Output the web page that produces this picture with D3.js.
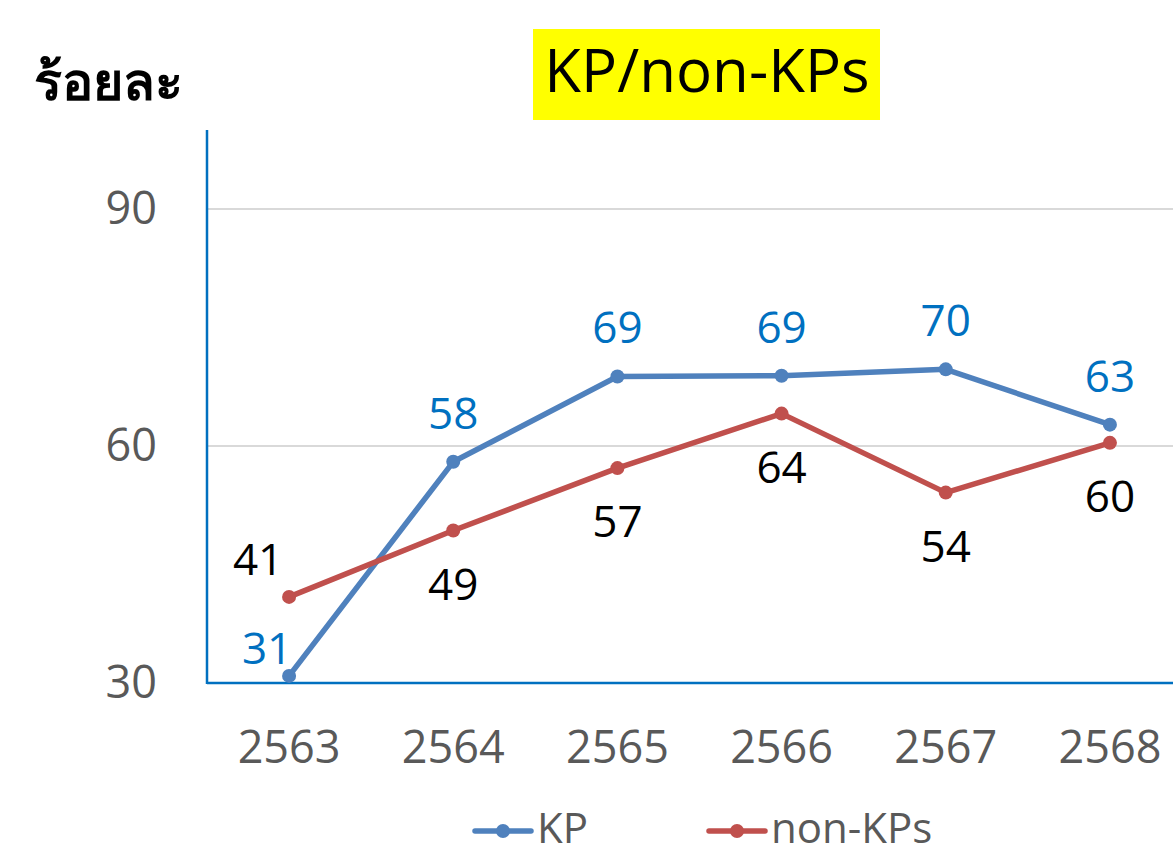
<!DOCTYPE html>
<html>
<head>
<meta charset="utf-8">
<script src="https://cdn.jsdelivr.net/npm/d3@7"></script>
<style>
  body { margin: 0; background: #fff; }
  svg { display: block; font-family: "Open Sans", sans-serif; }
</style>
</head>
<body>
<div id="chart"></div>
<script>
// data
const years = ['2563', '2564', '2565', '2566', '2567', '2568'];
const kp = [30.9, 58.0, 68.8, 68.9, 69.7, 62.7];
const nonKp = [40.9, 49.3, 57.2, 64.1, 54.1, 60.4];
const kpLabels = ['31', '58', '69', '69', '70', '63'];
const nonKpLabels = ['41', '49', '57', '64', '54', '60'];
const yTicks = [30, 60, 90];
const seriesNames = ['KP', 'non-KPs'];

const width = 1173;
const height = 855;
const plot = { left: 207, right: 1173, top: 130, bottom: 683 };

const svg = d3.select('#chart').append('svg')
  .attr('width', width)
  .attr('height', height);

const x = d3.scaleBand().domain(years).range([plot.left, 1192]);
const cx = (d) => x(d) + x.bandwidth() / 2;
const y = d3.scaleLinear().domain([30, 100]).range([plot.bottom, plot.top]);

// gridlines
svg.append('g')
  .attr('class', 'grid')
  .selectAll('line')
  .data(yTicks.filter((d) => d > 30))
  .join('line')
  .attr('x1', plot.left)
  .attr('x2', plot.right)
  .attr('y1', (d) => y(d))
  .attr('y2', (d) => y(d))
  .attr('stroke', '#d9d9d9')
  .attr('stroke-width', 2);

// y tick labels
const yAxis = svg.append('g')
  .attr('transform', `translate(${plot.left},0)`)
  .call(d3.axisLeft(y).tickValues(yTicks).tickSize(0).tickPadding(50));
yAxis.select('.domain').remove();
yAxis.selectAll('text')
  .attr('font-family', '"Open Sans", sans-serif')
  .attr('font-size', 45)
  .attr('fill', '#595959');

// x tick labels
const xAxis = svg.append('g')
  .attr('transform', `translate(0,${plot.bottom})`)
  .call(d3.axisBottom(x).tickSize(0).tickPadding(48));
xAxis.select('.domain').remove();
xAxis.selectAll('text')
  .attr('font-family', '"Open Sans", sans-serif')
  .attr('font-size', 45)
  .attr('fill', '#595959');

// axis lines
svg.append('line')
  .attr('x1', plot.left).attr('x2', plot.left)
  .attr('y1', plot.top).attr('y2', plot.bottom + 1)
  .attr('stroke', '#0070c0').attr('stroke-width', 2.5);
svg.append('line')
  .attr('x1', plot.left).attr('x2', plot.right)
  .attr('y1', plot.bottom).attr('y2', plot.bottom)
  .attr('stroke', '#0070c0').attr('stroke-width', 2.5);

const colors = ['#4f81bd', '#c0504d'];
const line = d3.line().x((d) => cx(d[0])).y((d) => y(d[1]));

[kp, nonKp].forEach((vals, s) => {
  const pts = years.map((yr, i) => [yr, vals[i]]);
  svg.append('path')
    .datum(pts)
    .attr('d', line)
    .attr('fill', 'none')
    .attr('stroke', colors[s])
    .attr('stroke-width', 5.5)
    .attr('stroke-linejoin', 'round');
  svg.append('g')
    .selectAll('circle')
    .data(pts)
    .join('circle')
    .attr('cx', (d) => cx(d[0]))
    .attr('cy', (d) => y(d[1]))
    .attr('r', 7)
    .attr('fill', colors[s]);
});

// data labels
svg.append('g')
  .selectAll('text')
  .data(years)
  .join('text')
  .attr('x', (d, i) => cx(d) + (i === 0 ? -22 : 0))
  .attr('y', (d, i) => y(kp[i]) + (i === 0 ? -12 : -33))
  .attr('text-anchor', 'middle')
  .attr('font-size', 44)
  .attr('fill', '#0070c0')
  .text((d, i) => kpLabels[i]);

svg.append('g')
  .selectAll('text')
  .data(years)
  .join('text')
  .attr('x', (d, i) => cx(d) + (i === 0 ? -31 : 0))
  .attr('y', (d, i) => y(nonKp[i]) + (i === 0 ? -22 : 69))
  .attr('text-anchor', 'middle')
  .attr('font-size', 44)
  .attr('fill', '#000')
  .text((d, i) => nonKpLabels[i]);

// title with yellow highlight
svg.append('rect')
  .attr('x', 533)
  .attr('y', 29)
  .attr('width', 347)
  .attr('height', 91)
  .attr('fill', '#ffff00');
svg.append('text')
  .attr('x', 707)
  .attr('y', 92)
  .attr('text-anchor', 'middle')
  .attr('font-size', 60)
  .attr('fill', '#000')
  .text('KP/non-KPs');

// y unit label
svg.append('text')
  .attr('x', 34)
  .attr('y', 100)
  .attr('font-size', 52)
  .attr('font-weight', 'bold')
  .attr('fill', '#000')
  .text('ร้อยละ');

// legend
const legendX = [475, 709];
const legend = svg.append('g')
  .selectAll('g')
  .data(seriesNames)
  .join('g')
  .attr('transform', (d, i) => `translate(${legendX[i]},831)`);
legend.append('line')
  .attr('x1', 0).attr('x2', 56)
  .attr('stroke', (d, i) => colors[i])
  .attr('stroke-width', 5.5)
  .attr('stroke-linecap', 'round');
legend.append('circle')
  .attr('cx', 28).attr('r', 7)
  .attr('fill', (d, i) => colors[i]);
legend.append('text')
  .attr('x', 62)
  .attr('y', 12)
  .attr('font-size', 42)
  .attr('fill', '#595959')
  .text((d) => d);
</script>
</body>
</html>
